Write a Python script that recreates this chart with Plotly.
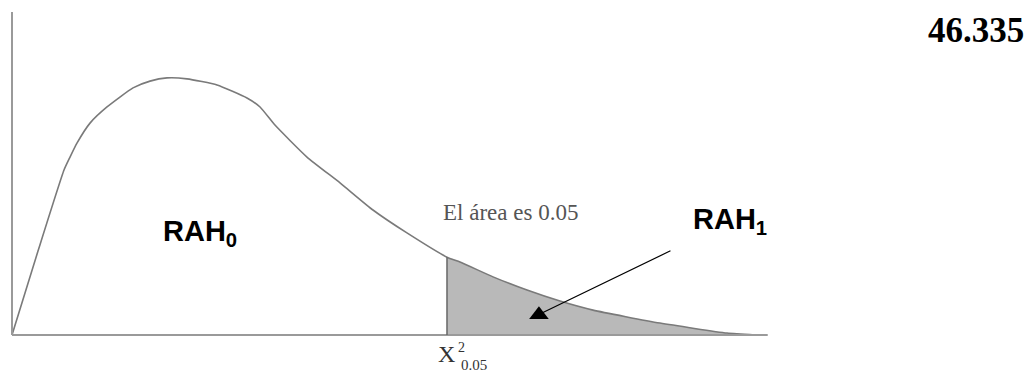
import plotly.graph_objects as go

# chi-square shaped density (x in chi2 units, y relative height)
CURVE_X = [0, 2.77, 5.54, 6.18, 6.92, 8.31, 10.12, 12.89, 14.70, 16.51, 18.64, 21.84,
           25.03, 26.42, 28.01, 31.42, 34.94, 38.45, 42.07, 46.335, 47.72, 51.24,
           54.86, 58.37, 61.89, 69.02, 76.16, 79.14]
CURVE_Y = [0, 0.260, 0.511, 0.551, 0.594, 0.656, 0.706, 0.765, 0.786, 0.796, 0.793, 0.774,
           0.734, 0.706, 0.650, 0.551, 0.471, 0.387, 0.316, 0.241, 0.226, 0.180,
           0.139, 0.105, 0.077, 0.037, 0.006, 0]
CRIT_VALUE = 46.335
AXIS_END = 80.5
AXIS_TOP = 1.0

CURVE_COLOUR = '#7a7a7a'
AXIS_COLOUR = '#9a9a9a'
SHADE_COLOUR = '#b9b9b9'
SERIF = 'Liberation Serif, Times New Roman, serif'
SANS = 'Liberation Sans, Arial, sans-serif'

tail_x = [x for x in CURVE_X if x >= CRIT_VALUE]
tail_y = [y for x, y in zip(CURVE_X, CURVE_Y) if x >= CRIT_VALUE]

fig = go.Figure()
fig.add_trace(go.Scatter(x=tail_x, y=tail_y, mode='none', fill='tozeroy',
                         fillcolor=SHADE_COLOUR, hoverinfo='skip',
                         line=dict(shape='spline', smoothing=0.5)))
fig.add_trace(go.Scatter(x=CURVE_X, y=CURVE_Y, mode='lines',
                         line=dict(color=CURVE_COLOUR, width=1.6, shape='spline', smoothing=0.5),
                         hoverinfo='skip'))

# axes drawn as plain lines
fig.add_shape(type='line', x0=0, x1=0, y0=0, y1=AXIS_TOP,
              line=dict(color=AXIS_COLOUR, width=2))
fig.add_shape(type='line', x0=0, x1=AXIS_END, y0=0, y1=0,
              line=dict(color=AXIS_COLOUR, width=2))
fig.add_shape(type='line', x0=CRIT_VALUE, x1=CRIT_VALUE, y0=0, y1=tail_y[0],
              line=dict(color='#666666', width=1.5))

annotations = [
    dict(x=102.7, y=0.943, text='<b>46.335</b>', font=dict(family=SERIF, size=35, color='black')),
    dict(x=20.03, y=0.316, text='<b>RAH<sub>0</sub></b>', font=dict(family=SANS, size=29, color='black')),
    dict(x=76.48, y=0.353, text='<b>RAH<sub>1</sub></b>', font=dict(family=SANS, size=29, color='black')),
    dict(x=53.15, y=0.378, text='El área es 0.05', font=dict(family=SERIF, size=23, color='#555555')),
    dict(x=CRIT_VALUE, y=-0.059, text='X', font=dict(family=SERIF, size=24, color='#333333')),
    dict(x=47.93, y=-0.040, text='2', font=dict(family=SERIF, size=14, color='#333333')),
    dict(x=49.2, y=-0.093, text='0.05', font=dict(family=SERIF, size=15, color='#333333')),
]
for a in annotations:
    fig.add_annotation(showarrow=False, xref='x', yref='y', **a)

# pointer from the RAH1 label into the shaded tail, with an upright filled head
fig.add_annotation(x=56.45, y=0.068, ax=70.30, ay=0.263, xref='x', yref='y',
                   axref='x', ayref='y', text='', showarrow=True,
                   arrowhead=0, arrowwidth=1.2, arrowcolor='black')
fig.add_trace(go.Scatter(x=[56.13], y=[0.063], mode='markers', hoverinfo='skip',
                         marker=dict(symbol='triangle-up', size=17, color='black')))

# the page has an 8px body margin, so the figure is sized to fit the window
fig.update_layout(width=1027, height=366, margin=dict(l=0, r=0, t=0, b=0),
                  paper_bgcolor='white', plot_bgcolor='white', showlegend=False)
fig.update_xaxes(range=[-0.426, 108.97], visible=False, showgrid=False, zeroline=False)
fig.update_yaxes(range=[-0.1207, 1.0124], visible=False, showgrid=False, zeroline=False)

fig.write_html('out.html')
